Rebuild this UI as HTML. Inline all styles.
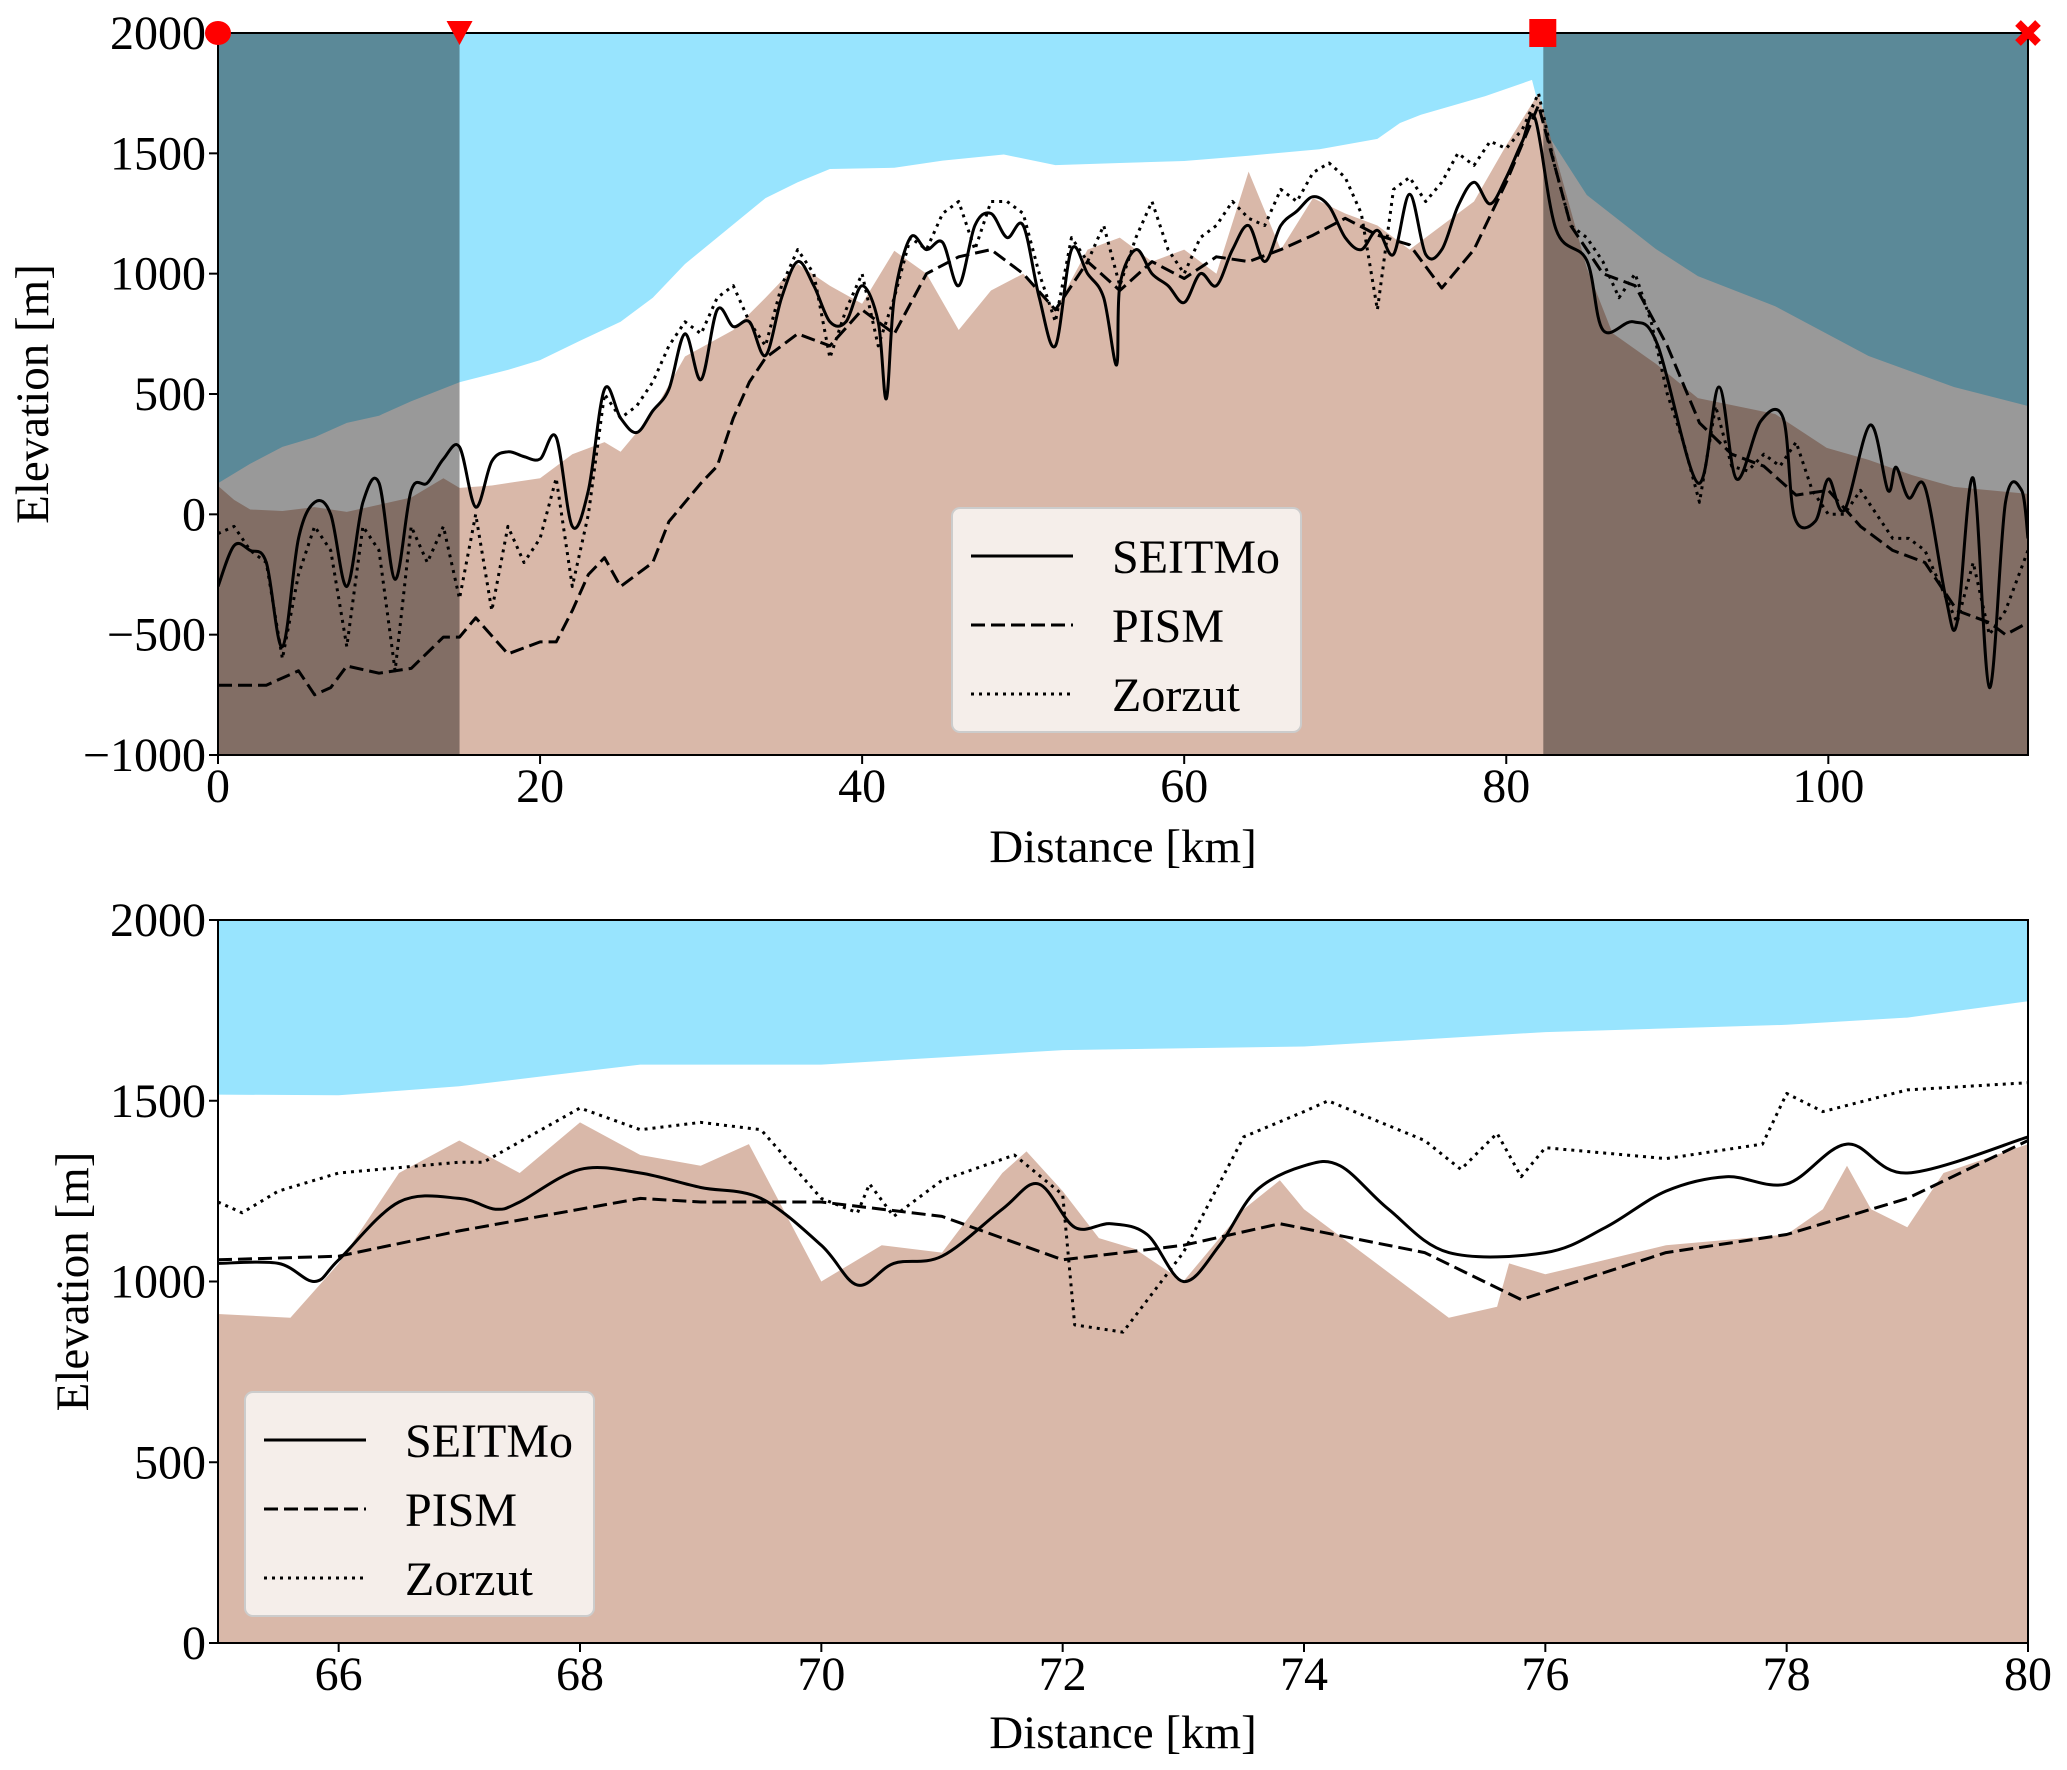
<!DOCTYPE html>
<html><head><meta charset="utf-8"><style>
html,body{margin:0;padding:0;background:#fff;}
svg{display:block;font-family:"Liberation Serif","DejaVu Serif",serif;}
</style></head><body>
<svg id="chart" width="2067" height="1770" viewBox="0 0 2067 1770" xmlns="http://www.w3.org/2000/svg"></svg>
<script>
// ---------- TOP PANEL DATA ----------
const topSurfX = [0,2,4,6,8,10,12,15,18,20,22.5,25,27,29,31,34,36,38,42,45,48.8,52,56,60,64,68.4,72,73.4,74.7,78.7,81.6,82.4,85,89.3,91.9,96.7,102.5,107.8,112.4];
const topSurfY = [129,210,280,320,380,410,470,549,600,641,722,800,900,1040,1150,1314,1380,1435,1440,1470,1495,1451,1460,1468,1490,1517,1560,1626,1660,1738,1805,1597,1327,1102,990,865,658,529,450];
const topBedX = [0,1,2,4,6,8,10,12,14,15,17,20,22,24,25,27,29,32,34,36,38,40,42,44,46,48,50,52,54,56,58,60,62,64,66,68,70,72,74,76,78,80,82,82.4,85,86.6,89.3,91.9,96.7,99.9,102.5,105.2,107.8,112.4];
const topBedY = [118,60,20,14,30,10,40,70,150,110,120,150,250,300,260,420,656,766,900,1040,950,875,1095,1000,766,930,1000,850,1100,1150,1050,1100,1000,1424,1100,1314,1250,1200,1100,1200,1300,1534,1750,1650,1024,753,625,483,417,276,226,163,114,85];
const topSeitX = [0,1,2,3,4,5,6,7,8,9,10,11,12,13,14,15,16,17,18,19,20,21,22,23,24,25,26,27,28,29,30,31,32,33,34,35,36,37,38,39,40,41,41.5,42,43,44,45,46,47,48,49,50,51,52,53,54,55,55.8,56,57,58,59,60,61,62,63,64,65,66,67,68,69,70,71,72,73,74,75,76,77,78,79,80,81,81.8,83.1,85,86,87.9,89.4,91.9,93.2,94.3,95.8,97.2,97.9,99.2,100,101,102.6,103.7,104.2,105,106,107.3,108,109,110,111,112,112.4];
const topSeitY = [-300,-130,-150,-200,-550,-100,50,0,-300,50,130,-270,100,130,230,280,30,220,260,240,230,320,-50,100,520,400,340,430,520,750,560,850,780,800,660,900,1050,950,800,800,950,800,480,900,1150,1100,1130,950,1200,1250,1150,1200,900,700,1100,1000,900,620,950,1100,1000,950,880,1000,950,1100,1200,1050,1200,1260,1320,1280,1150,1100,1180,1080,1330,1080,1100,1280,1380,1290,1400,1550,1643,1182,1055,766,800,704,130,529,147,387,400,-11,-28,147,18,371,100,196,68,114,-348,-450,150,-720,50,100,-100];
const topPismX = [0,3,5,6,7,8,10,12,14,15,16,18,20,21,22,23,24,25,27,28,30,31,32,33,34,36,38,40,42,44,46,48,50,52,54,56,58,60,62,64,66,68,70,72,74,76,78,80,82,84,86,88,90,92,94,96,98,100,102,104,106,108,110,111,112.4];
const topPismY = [-710,-710,-650,-750,-720,-630,-660,-640,-510,-510,-430,-580,-530,-530,-400,-250,-180,-300,-200,-30,130,200,400,550,650,750,700,850,750,1000,1070,1100,1000,850,1050,930,1050,980,1070,1050,1100,1160,1230,1160,1120,940,1100,1380,1700,1200,1000,950,700,380,250,200,80,100,-50,-150,-200,-400,-450,-500,-450];
const topZorX = [0,1,2,3,4,5,6,7,8,9,10,11,12,13,14,15,16,17,18,19,20,21,22,23,24,25,26,27,28,29,30,31,32,33,34,35,36,37,38,39,40,41,42,43,44,45,46,47,48,49,50,51,52,53,54,55,56,57,58,59,60,61,62,63,64,65,66,67,68,69,70,71,72,73,74,75,76,77,78,79,80,81,82,83,84,85,86,87,88,89,90,91,92,93,94,95,96,97,98,99,100,101,102,103,104,105,106,107,108,109,110,111,112.4];
const topZorY = [-80,-50,-150,-200,-600,-250,-50,-150,-550,-50,-150,-650,-50,-200,-50,-350,0,-400,-50,-200,-100,150,-300,0,500,400,450,550,700,800,750,900,950,800,700,950,1100,1000,650,850,1000,700,900,1150,1100,1250,1300,1100,1300,1300,1250,1000,800,1150,1050,1200,950,1150,1300,1100,1000,1150,1200,1300,1230,1200,1350,1300,1420,1460,1400,1250,850,1350,1400,1300,1380,1500,1450,1550,1520,1600,1750,1450,1200,1150,1050,900,1000,800,500,300,50,450,200,180,250,200,300,100,0,0,100,0,-100,-100,-150,-300,-450,-200,-500,-400,-150];
const topXTicks = [0,20,40,60,80,100];
const topYTicks = [-1000,-500,0,500,1000,1500,2000];
const shadeSpans = [[0,15],[82.3,112.4]];

// ---------- BOTTOM PANEL DATA ----------
const botSurfX = [65,66,67,68,68.5,70,71,72,74,76,78,79,80];
const botSurfY = [1517,1515,1540,1580,1600,1600,1620,1640,1650,1690,1710,1730,1775];
const botBedX = [65,65.6,66,66.5,67,67.5,68,68.5,69,69.4,70,70.5,71,71.5,71.7,72,72.3,72.6,73,73.5,73.8,74,74.6,75.2,75.6,75.7,76,77,78,78.3,78.5,78.7,79,79.3,80];
const botBedY = [910,900,1050,1300,1390,1300,1440,1350,1320,1380,1000,1100,1080,1300,1360,1250,1120,1090,1000,1200,1280,1200,1050,900,930,1050,1020,1100,1130,1200,1320,1200,1150,1300,1380];
const botSeitX = [65,65.5,65.8,66,66.5,67,67.3,67.5,68,68.5,69,69.5,70,70.3,70.6,71,71.5,71.8,72.1,72.4,72.7,73,73.3,73.6,74,74.3,74.7,75.2,76,76.5,77,77.5,78,78.5,79,80];
const botSeitY = [1050,1050,1000,1060,1220,1230,1200,1220,1310,1300,1260,1230,1100,990,1050,1070,1200,1270,1150,1160,1130,1000,1100,1250,1320,1320,1200,1080,1080,1150,1250,1290,1270,1380,1300,1400];
const botPismX = [65,66,67,68,68.5,69,69.5,70,71,72,73,73.8,75,75.8,77,78,79,80];
const botPismY = [1060,1070,1140,1200,1230,1220,1220,1220,1180,1060,1100,1160,1080,950,1080,1130,1230,1390];
const botZorX = [65,65.2,65.5,66,67,67.2,68,68.5,69,69.5,70,70.3,70.4,70.6,71,71.6,72,72.1,72.5,73,73.5,74,74.2,75,75.3,75.6,75.8,76,77,77.8,78,78.3,79,80];
const botZorY = [1220,1190,1250,1300,1330,1330,1480,1420,1440,1420,1230,1190,1270,1180,1280,1350,1240,880,860,1080,1400,1470,1500,1390,1310,1410,1290,1370,1340,1380,1520,1470,1530,1550];
const botXTicks = [66,68,70,72,74,76,78,80];
const botYTicks = [0,500,1000,1500,2000];

const NS = "http://www.w3.org/2000/svg";
const svg = document.getElementById('chart');
function mk(tag, attrs, parent){
  const e = document.createElementNS(NS, tag);
  for (const k in attrs) e.setAttribute(k, attrs[k]);
  (parent||svg).appendChild(e);
  return e;
}
function pathFrom(xs, ys, sx, sy){
  return xs.map((x,i)=>(i?'L':'M')+sx(x).toFixed(1)+','+sy(ys[i]).toFixed(1)).join(' ');
}
function smoothFrom(xs, ys, sx, sy){
  const P = xs.map((x,i)=>[sx(x), sy(ys[i])]);
  let d = 'M'+P[0][0].toFixed(1)+','+P[0][1].toFixed(1);
  for (let i=0;i<P.length-1;i++){
    const p0 = P[Math.max(0,i-1)], p1 = P[i], p2 = P[i+1], p3 = P[Math.min(P.length-1,i+2)];
    const c1 = [p1[0]+(p2[0]-p0[0])/6, p1[1]+(p2[1]-p0[1])/6];
    const c2 = [p2[0]-(p3[0]-p1[0])/6, p2[1]-(p3[1]-p1[1])/6];
    d += ` C${c1[0].toFixed(1)},${c1[1].toFixed(1)} ${c2[0].toFixed(1)},${c2[1].toFixed(1)} ${p2[0].toFixed(1)},${p2[1].toFixed(1)}`;
  }
  return d;
}
function fmt(v){ return v<0 ? '\u2212'+Math.abs(v) : String(v); }

function panel(cfg){
  const {L,R,T,B,x0,x1,y0,y1} = cfg;
  const sx = x => L + (x-x0)/(x1-x0)*(R-L);
  const sy = y => B - (y-y0)/(y1-y0)*(B-T);
  const g = mk('g', {});
  
  
  const clipId = cfg.name+'-clip';
  const defs = mk('defs', {}, g);
  const cp = mk('clipPath', {id: clipId}, defs);
  mk('rect', {x:L, y:T, width:R-L, height:B-T}, cp);
  const pg = mk('g', {'clip-path':'url(#'+clipId+')'}, g);
  const sky = mk('path', {d: pathFrom(cfg.surfX, cfg.surfY, sx, sy)+` L${R},${T} L${L},${T} Z`, fill:'#98e4fe'}, pg);
  
  
  const bed = mk('path', {d: pathFrom(cfg.bedX, cfg.bedY, sx, sy)+` L${R},${B} L${L},${B} Z`, fill:'#d9b8a9'}, pg);
  
  
  if (cfg.shade){
    cfg.shade.forEach((s,i)=>{
      const r = mk('rect', {x:sx(s[0]), y:T, width:sx(s[1])-sx(s[0]), height:B-T, fill:'#000', 'fill-opacity':0.4}, pg);
      
      
    });
  }
  const series = [
    [cfg.pismX, cfg.pismY, '14,6', 'pism-line', false],
    [cfg.zorX, cfg.zorY, '3,5', 'zorzut-line', false],
    [cfg.seitX, cfg.seitY, null, 'seitmo-line', true]
  ];
  series.forEach(s=>{
    const a = {d: s[4] ? smoothFrom(s[0], s[1], sx, sy) : pathFrom(s[0], s[1], sx, sy), fill:'none', stroke:'#000', 'stroke-width':3, 'stroke-linejoin':'round'};
    if (s[2]) a['stroke-dasharray'] = s[2];
    const p = mk('path', a, pg);
    
    
  });
  const fr = mk('rect', {x:L, y:T, width:R-L, height:B-T, fill:'none', stroke:'#000', 'stroke-width':2}, g);
  
  
  cfg.xTicks.forEach(t=>{
    mk('line', {x1:sx(t), x2:sx(t), y1:B, y2:B+9, stroke:'#000', 'stroke-width':2}, g);
    const tx = mk('text', {x:sx(t), y:B+47, 'font-size':48, 'text-anchor':'middle'}, g);
    tx.textContent = fmt(t);
    
    
  });
  cfg.yTicks.forEach(t=>{
    mk('line', {x1:L-9, x2:L, y1:sy(t), y2:sy(t), stroke:'#000', 'stroke-width':2}, g);
    const tx = mk('text', {x:L-12, y:sy(t)+16, 'font-size':48, 'text-anchor':'end'}, g);
    tx.textContent = fmt(t);
    
    
  });
  const xl = mk('text', {x:(L+R)/2, y:cfg.xlabY, 'font-size':47, 'text-anchor':'middle'}, g);
  xl.textContent = 'Distance [km]';
  
  
  const cy = (T+B)/2;
  const yl = mk('text', {x:cfg.ylabX, y:cy, 'font-size':47, 'text-anchor':'middle', transform:`rotate(-90 ${cfg.ylabX} ${cy})`}, g);
  yl.textContent = 'Elevation [m]';
  
  
  const lg = mk('g', {}, g);
  
  
  const lx = cfg.legX, ly = cfg.legY;
  mk('rect', {x:lx, y:ly, width:349, height:224, rx:8, fill:'#f7f0ed', stroke:'#cccccc', 'stroke-width':2, 'fill-opacity':0.95}, lg);
  [['SEITMo',null],['PISM','14,6'],['Zorzut','3,5']].forEach((e,i)=>{
    const yy = ly + 48 + i*69;
    const la = {x1:lx+19, x2:lx+121, y1:yy, y2:yy, stroke:'#000', 'stroke-width':3};
    if (e[1]) la['stroke-dasharray'] = e[1];
    const ln = mk('line', la, lg);
    
    
    const t = mk('text', {x:lx+160, y:yy+17, 'font-size':48}, lg);
    t.textContent = e[0];
    
    
  });
  return {sx, sy, g};
}

const topPanel = panel({name:'top-panel', L:218, R:2028, T:33, B:755, x0:0, x1:112.4, y0:-1000, y1:2000,
  surfX:topSurfX, surfY:topSurfY, bedX:topBedX, bedY:topBedY,
  seitX:topSeitX, seitY:topSeitY, pismX:topPismX, pismY:topPismY, zorX:topZorX, zorY:topZorY,
  xTicks:topXTicks, yTicks:topYTicks, shade:shadeSpans, xlabY:862, ylabX:48, legX:952, legY:508});

const mY = topPanel.sy(2000);
const m1 = mk('ellipse', {cx:topPanel.sx(0), cy:mY, rx:13, ry:12, fill:'#ff0000'});


const tx15 = topPanel.sx(15);
const m2 = mk('polygon', {points:`${tx15-13},${mY-12} ${tx15+13},${mY-12} ${tx15},${mY+12}`, fill:'#ff0000'});


const sqx = topPanel.sx(82.3);
const m3 = mk('rect', {x:sqx-14, y:mY-14, width:27, height:28, fill:'#ff0000'});


const xx = topPanel.sx(112.4);
const m4 = mk('path', {d:`M${xx-10},${mY-10} L${xx+10},${mY+10} M${xx+10},${mY-10} L${xx-10},${mY+10}`, stroke:'#ff0000', 'stroke-width':8});



panel({name:'bottom-panel', L:218, R:2028, T:920, B:1643, x0:65, x1:80, y0:0, y1:2000,
  surfX:botSurfX, surfY:botSurfY, bedX:botBedX, bedY:botBedY,
  seitX:botSeitX, seitY:botSeitY, pismX:botPismX, pismY:botPismY, zorX:botZorX, zorY:botZorY,
  xTicks:botXTicks, yTicks:botYTicks, shade:null, xlabY:1748, ylabX:88, legX:245, legY:1392});
</script>
</body></html>
